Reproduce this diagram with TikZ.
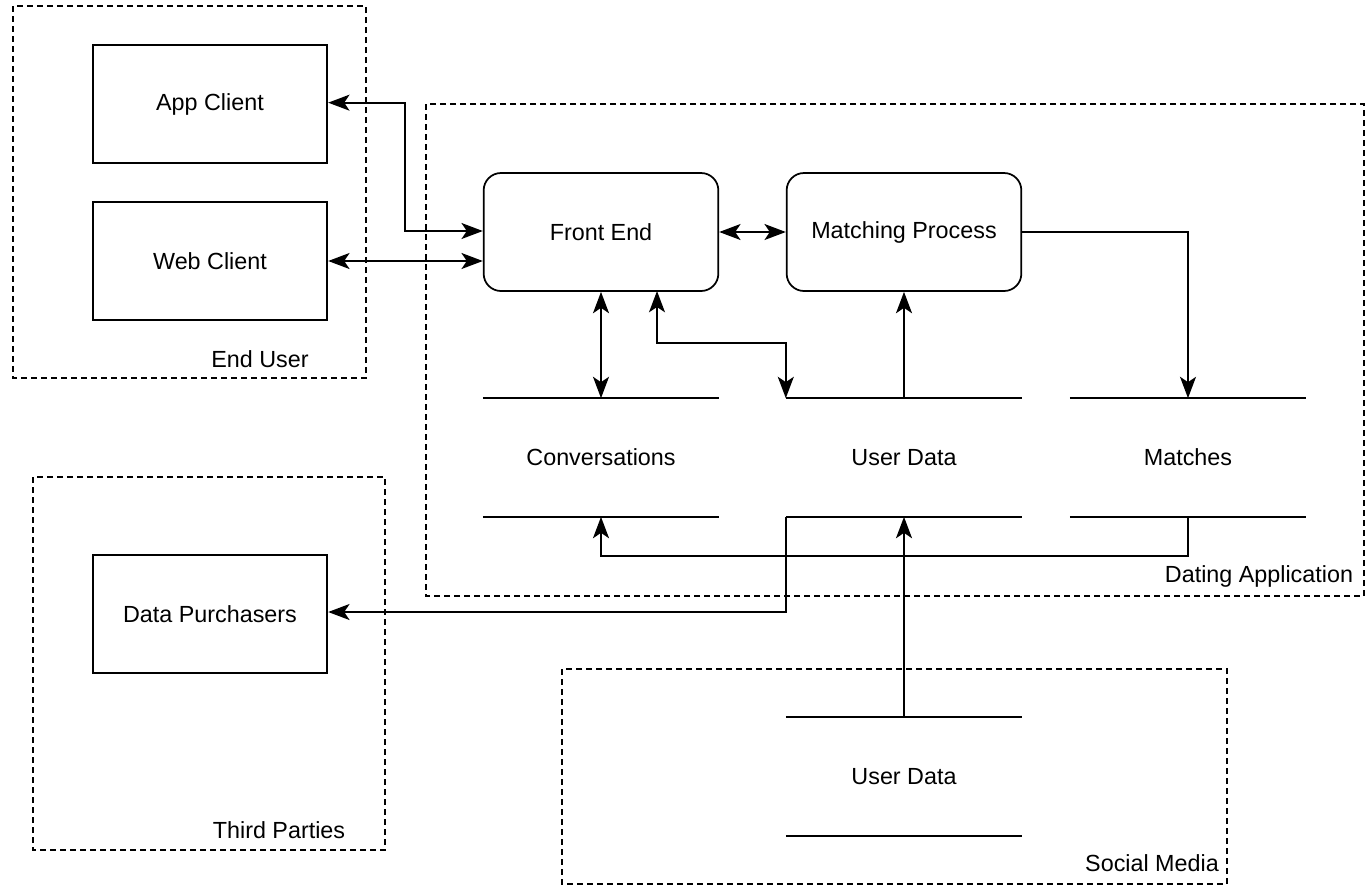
\documentclass[tikz,border=0pt]{standalone}
\usepackage{fontspec}
\setmainfont{Liberation Sans}
\usetikzlibrary{arrows.meta,calc,positioning}

\begin{document}
\begin{tikzpicture}[
    x=0.75pt, y=-0.75pt,
    font=\fontsize{17.5}{21}\selectfont,
    line width=1.3pt,
    >={Stealth[length=16pt,width=12pt,inset=4pt]},
    group/.style={draw=black, line width=1pt, dash pattern=on 4.5pt off 3pt},
    grouplabel/.style={inner sep=0pt},
    entity/.style={rectangle, draw=black, minimum width=176pt, minimum height=88.5pt},
    process/.style={rectangle, draw=black, rounded corners=13pt, minimum width=176pt, minimum height=88.5pt},
    store/.style={rectangle, minimum width=176pt, minimum height=87.75pt},
    arrow/.style={->},
    biarrow/.style={<->}
]
\useasboundingbox (0,0) rectangle (1370,886);
% Groups
\draw[group] (13,6) rectangle (366,378);
\draw[group] (426,104) rectangle (1364,596);
\draw[group] (33,477) rectangle (385,850);
\draw[group] (562,669) rectangle (1227,884);
\node[grouplabel] (enduser_label) at (260,359) {End User};
\node[grouplabel] (dating_label) at (1259,576) {Dating Application};
\node[grouplabel] (third_label) at (279,830) {Third Parties};
\node[grouplabel] (social_label) at (1152,863) {Social Media};
% End user clients
\node[entity] (app) at (210,104) {App Client};
\node[entity] (web) at (210,261) {Web Client};
% Third party
\node[entity] (purchasers) at (210,614) {Data Purchasers};
% Processes
\node[process] (frontend) at (601,232) {Front End};
\node[process] (matching) at (904,232) {Matching Process};
% Data stores
\node[store] (conversations) at (601,457.5) {Conversations};
\node[store] (userdata) at (904,457.5) {User Data};
\node[store] (matches) at (1188,457.5) {Matches};
\node[store] (social) at (904,776.5) {User Data};
\foreach \s in {conversations,userdata,matches,social}{
    \draw (\s.north west) -- (\s.north east);
    \draw (\s.south west) -- (\s.south east);
}
% Arrows
\draw[biarrow] ([yshift=1pt]app.east) -| (405,231) -- (frontend.west |- 0,231);
\draw[biarrow] (web.east) -- (frontend.west |- web.east);
\draw[biarrow] (frontend) -- (matching);
\draw[biarrow] (frontend) -- (conversations);
\draw[biarrow] (userdata.north west) |- (657,343) -- (657,291);
\draw[arrow] (userdata.north) -- (matching.south);
\draw[arrow] (matching.east) -| (matches.north);
\draw[arrow] (matches.south) |- (601,556) -- (conversations.south);
\draw[arrow] (userdata.south west) |- (purchasers.east |- 0,612);
\draw[arrow] (social.north) -- (userdata.south);
\end{tikzpicture}
\end{document}
